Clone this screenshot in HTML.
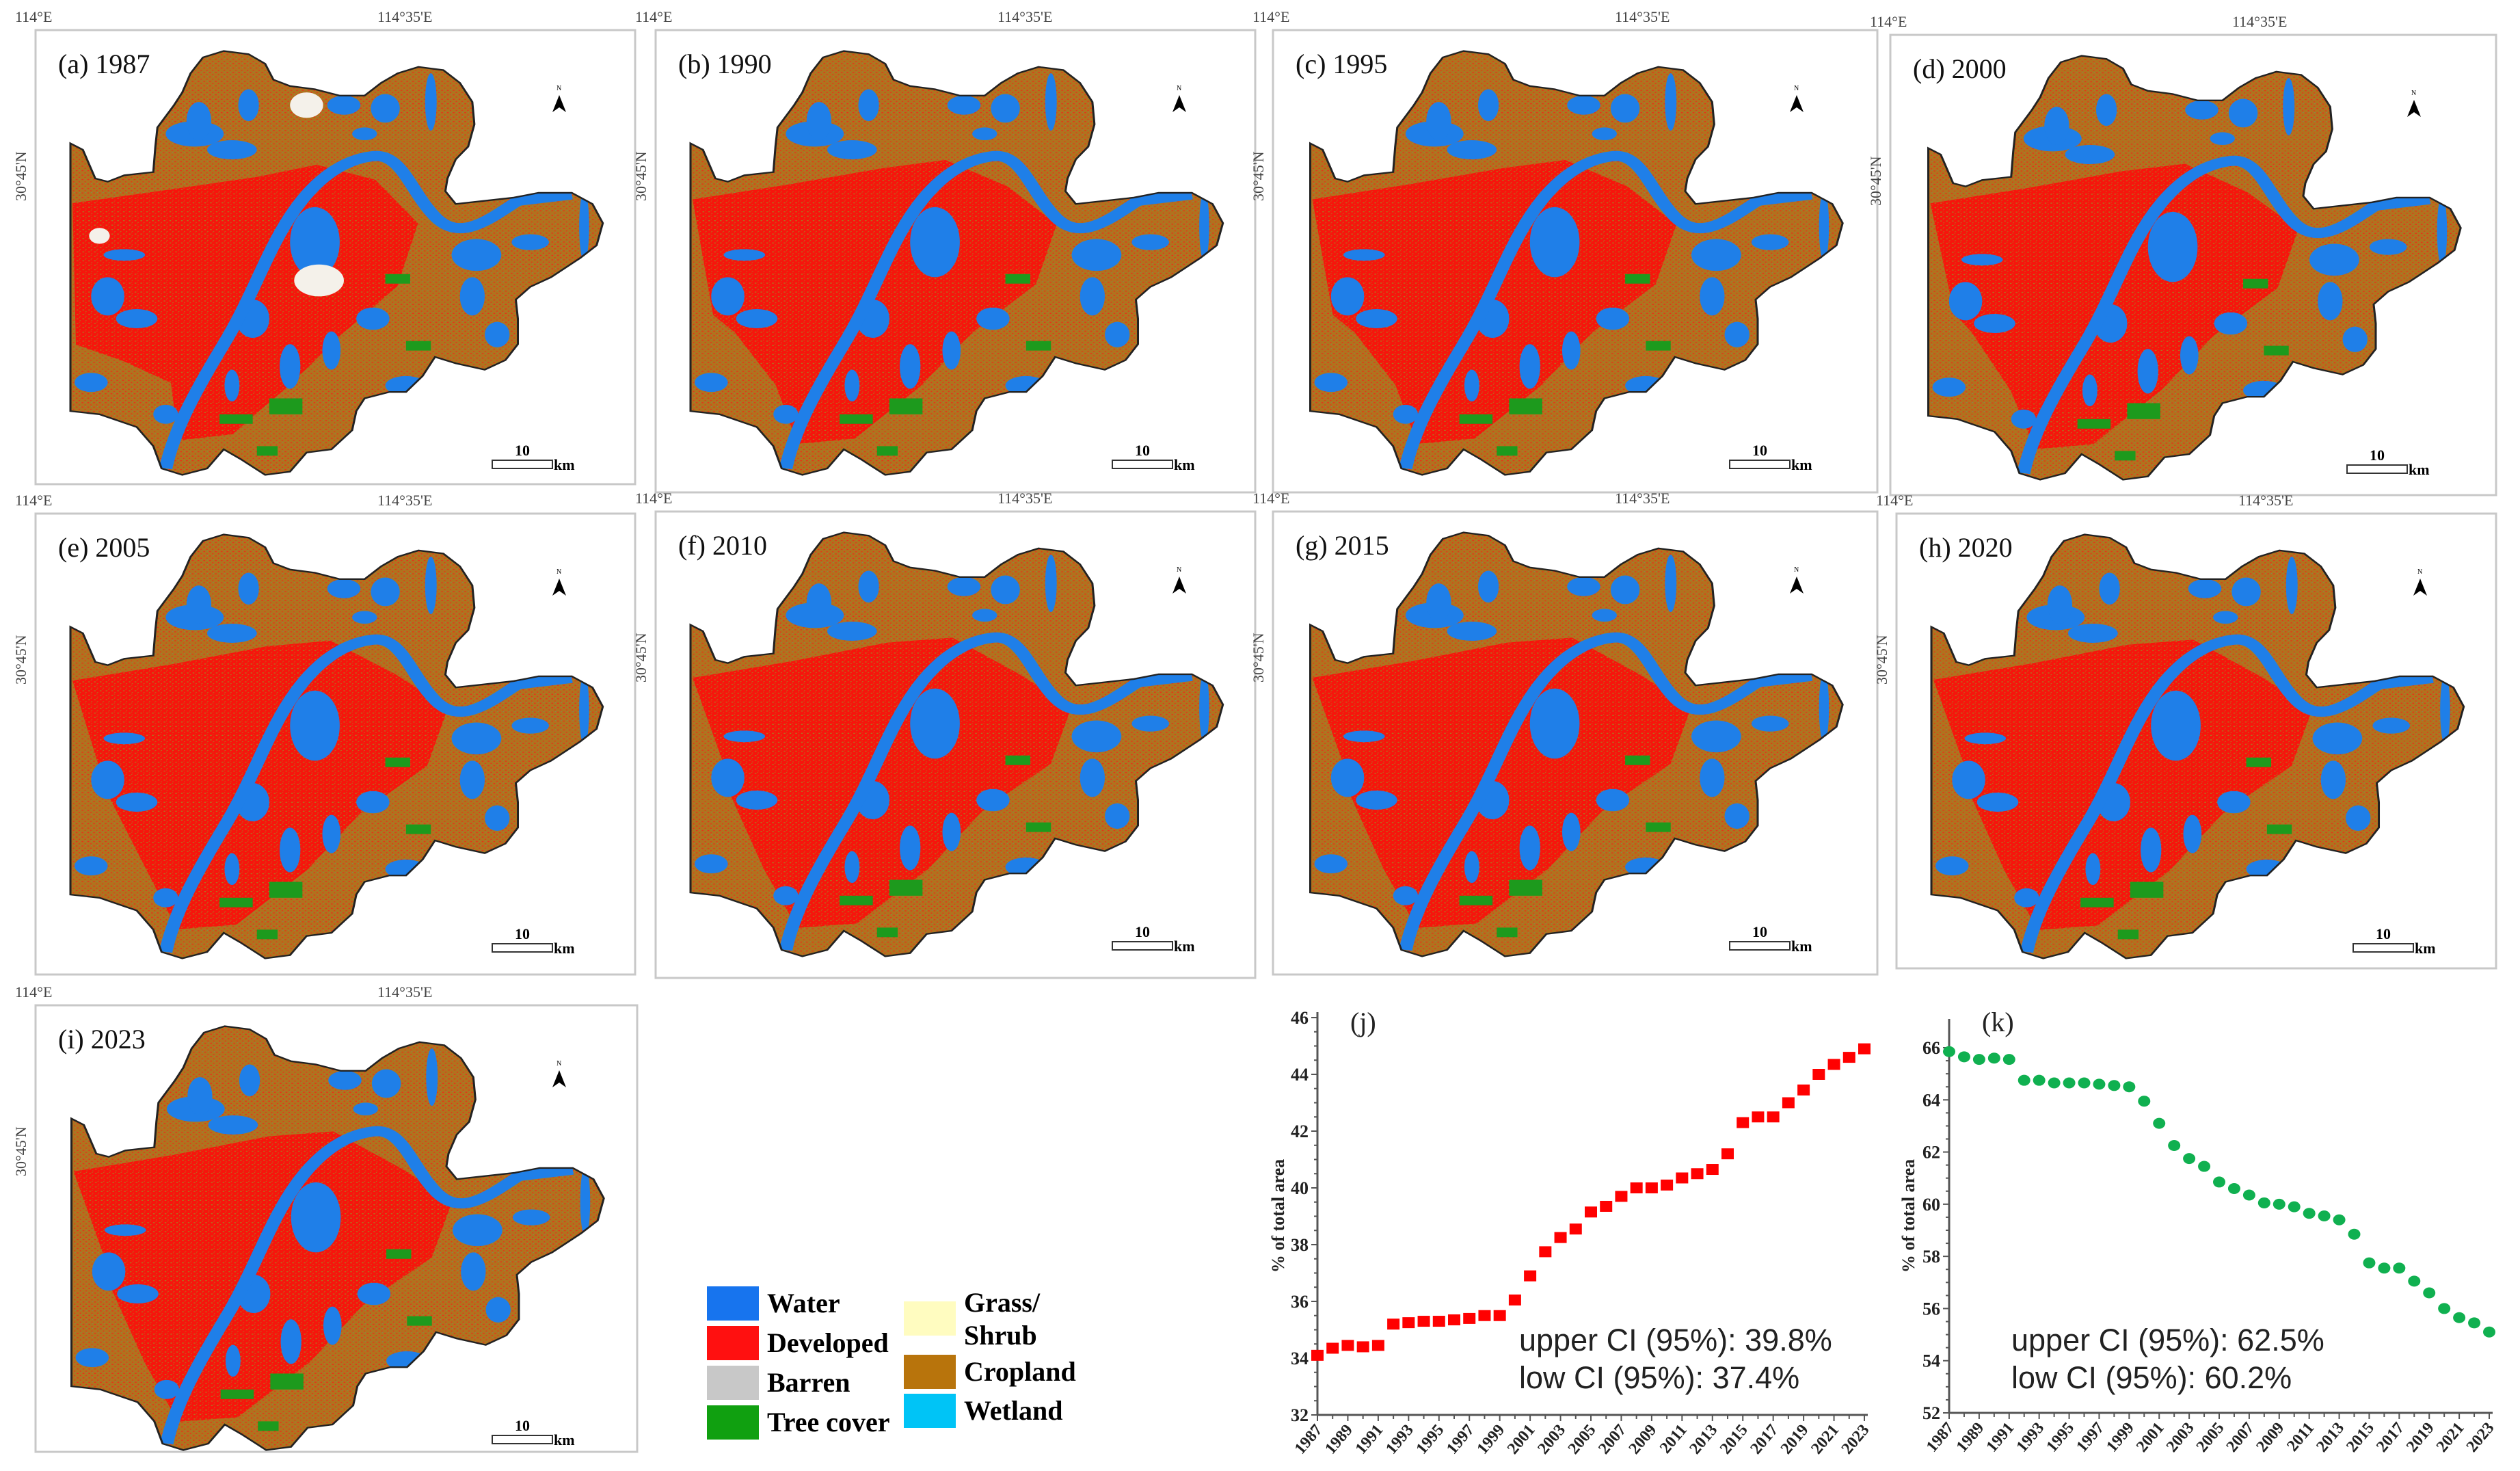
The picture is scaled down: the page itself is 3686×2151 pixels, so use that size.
<!DOCTYPE html>
<html><head><meta charset="utf-8">
<style>
html,body{margin:0;padding:0;background:#fff;}
svg{display:block;}
text{font-family:"Liberation Serif",serif;}
</style></head>
<body>
<svg id="fig" width="3686" height="2151" viewBox="0 0 3686 2151" xmlns="http://www.w3.org/2000/svg">
<defs>
<pattern id="crop" patternUnits="userSpaceOnUse" width="14" height="14">
<rect width="14" height="14" fill="#b0731e"/>
<rect x="1" y="2" width="4" height="3" fill="#e8301a"/>
<rect x="8" y="9" width="3" height="3" fill="#e8301a"/>
<rect x="10" y="1" width="2" height="2" fill="#7d8a60"/>
</pattern>
<pattern id="dev" patternUnits="userSpaceOnUse" width="14" height="14">
<rect width="14" height="14" fill="#f6150c"/>
<rect x="3" y="5" width="4" height="3" fill="#b0731e"/>
<rect x="10" y="11" width="3" height="2" fill="#b0731e"/>
<rect x="9" y="2" width="2" height="2" fill="#b0731e"/>
</pattern>
<clipPath id="mapclip" clipPathUnits="userSpaceOnUse"><path id="outlineClip" d=""/></clipPath>
</defs>
<g id="maps"></g>
<g id="legend"></g>
<g id="chartJ"></g>
<g id="chartK"></g>
</svg>
<script>
// ---- chart data ----
const years = [1987,1988,1989,1990,1991,1992,1993,1994,1995,1996,1997,1998,1999,2000,2001,2002,2003,2004,2005,2006,2007,2008,2009,2010,2011,2012,2013,2014,2015,2016,2017,2018,2019,2020,2021,2022,2023];
const developedPct = [34.1,34.35,34.45,34.4,34.45,35.2,35.25,35.3,35.3,35.35,35.4,35.5,35.5,36.05,36.9,37.75,38.25,38.55,39.15,39.35,39.7,40.0,40.0,40.1,40.35,40.5,40.65,41.2,42.3,42.5,42.5,43.0,43.45,44.0,44.35,44.6,44.9];
const croplandPct = [65.85,65.65,65.55,65.6,65.55,64.75,64.75,64.65,64.65,64.65,64.6,64.55,64.5,63.95,63.1,62.25,61.75,61.45,60.85,60.6,60.35,60.05,60.0,59.9,59.65,59.55,59.4,58.85,57.75,57.55,57.55,57.05,56.6,56.0,55.65,55.45,55.1];
const yTicksJ = [32,34,36,38,40,42,44,46];
const yTicksK = [52,54,56,58,60,62,64,66];
const ciJ = ["upper CI (95%): 39.8%","low CI (95%): 37.4%"];
const ciK = ["upper CI (95%): 62.5%","low CI (95%): 60.2%"];
const panelTitles = ["(a) 1987","(b) 1990","(c) 1995","(d) 2000","(e) 2005","(f) 2010","(g) 2015","(h) 2020","(i) 2023"];

const NS="http://www.w3.org/2000/svg";
function mk(tag,attrs,parent){const e=document.createElementNS(NS,tag);for(const k in attrs)e.setAttribute(k,attrs[k]);if(parent)parent.appendChild(e);return e;}

// ---- map geometry (base coordinate space) ----
const outline=[[170,450],[170,1290],[240,1300],[330,1340],[370,1400],[390,1470],[440,1490],[500,1470],[540,1410],[580,1440],[640,1490],[700,1480],[740,1420],[800,1410],[850,1350],[860,1290],[880,1250],[940,1230],[980,1230],[1020,1180],[1050,1120],[1100,1140],[1170,1160],[1220,1130],[1250,1080],[1250,1000],[1245,940],[1280,900],[1330,870],[1400,810],[1440,770],[1455,700],[1430,640],[1380,605],[1300,605],[1240,620],[1100,640],[1075,600],[1080,560],[1100,500],[1130,460],[1145,390],[1140,320],[1110,260],[1070,220],[1010,210],[960,230],[920,260],[880,300],[820,300],[760,280],[700,270],[660,250],[640,200],[600,170],[540,160],[490,180],[460,230],[440,290],[420,330],[380,400],[375,460],[370,540],[300,550],[260,570],[230,560],[200,470]];
const outlineD="M"+outline.map(p=>p.join(",")).join("L")+"Z";
document.getElementById("outlineClip").setAttribute("d",outlineD);
const redCore=[[175,640],[400,600],[620,560],[760,520],[900,560],[1000,700],[950,900],[820,1050],[700,1200],[560,1360],[430,1380],[420,1200],[300,1150],[175,1100]];
const redExtra=[[175,560],[450,480],[700,380],[900,420],[1100,700],[1300,720],[1250,850],[1000,1000],[850,1250],[600,1450],[420,1450],[175,1250]];
const riverD="M400,1470 C420,1350 470,1230 540,1080 S640,800 700,680 S830,500 900,490 S990,600 1050,680 S1180,690 1250,630 L1380,610";
const bluePatches=[[470,420,70,40],[560,470,60,30],[830,330,40,30],[930,340,35,45],[760,760,60,110],[1150,800,60,50],[980,1210,50,30],[260,930,40,60],[330,1000,50,30],[1140,930,30,60],[610,1000,40,60],[1410,710,12,110],[480,380,30,60],[600,330,25,50],[1040,320,14,90],[700,1150,25,70],[800,1100,22,60],[560,1210,18,50],[900,1000,40,35],[300,800,50,18],[220,1200,40,30],[400,1300,30,30],[1280,760,45,25],[1200,1050,30,40],[880,420,30,20]];
const greenPatches=[[650,1250,40,25],[530,1300,40,15],[930,860,30,15],[980,1070,30,15],[620,1400,25,15]];

const frames=[[52,44,877,664],[959,44,877,676],[1862,44,884,676],[2765,51,886,673],[52,751,877,674],[959,748,877,682],[1862,748,884,677],[2774,751,877,665],[52,1470,880,653]];
const levels=[0.55,0.8,0.8,0.85,0.95,1,1,1,1];
const maps=document.getElementById("maps");
frames.forEach((f,i)=>{
  const [fx,fy,fw,fh]=f;
  const g=mk("g",{},maps);
  
  
  mk("rect",{x:fx,y:fy,width:fw,height:fh,fill:"#fff",stroke:"#c8c8c8","stroke-width":3},g);
  const t1=mk("text",{x:fx-30,y:fy-12,"font-size":22,fill:"#444"},g);t1.textContent="114°E";
  const t2=mk("text",{x:fx+500,y:fy-12,"font-size":22,fill:"#444"},g);t2.textContent="114°35'E";
  const t3=mk("text",{x:0,y:0,"font-size":22,fill:"#444",transform:`translate(${fx-14},${fy+250}) rotate(-90)`},g);t3.textContent="30°45'N";
  const m=mk("g",{transform:`translate(${fx-52+(fw-877)/2},${fy-44}) scale(0.606,0.466)`},g);
  
  
  mk("path",{d:outlineD,fill:"url(#crop)"},m);
  const c=mk("g",{"clip-path":"url(#mapclip)"},m);
  const L=levels[i];
  const pts=redCore.map((p,k)=>{const q=redExtra[k%redExtra.length];return [p[0]+(q[0]-p[0])*(L-0.5)*0.6,p[1]+(q[1]-p[1])*(L-0.5)*0.6];});
  mk("path",{d:"M"+pts.map(p=>p.join(",")).join("L")+"Z",fill:"url(#dev)"},c);
  bluePatches.forEach(b=>mk("ellipse",{cx:b[0],cy:b[1],rx:b[2],ry:b[3],fill:"#1f7fe8"},c));
  greenPatches.forEach(b=>mk("rect",{x:b[0],y:b[1],width:b[2]*2,height:b[3]*2,fill:"#1d9a1d"},c));
  if(i===0){[[770,880,60,50],[240,740,25,25],[740,330,40,40]].forEach(b=>mk("ellipse",{cx:b[0],cy:b[1],rx:b[2],ry:b[3],fill:"#f4f1ea"},c));}
  mk("path",{d:riverD,fill:"none",stroke:"#1f7fe8","stroke-width":32},c);
  mk("path",{d:outlineD,fill:"none",stroke:"#222","stroke-width":5},m);
  const tt=mk("text",{x:fx+33,y:fy+63,"font-size":40,fill:"#111"},g);tt.textContent=panelTitles[i];
  const na=mk("path",{d:`M${fx+766},${fy+95} L${fx+776},${fy+120} L${fx+766},${fy+113} L${fx+756},${fy+120} Z`,fill:"#000"},g);
  
  
  const nt=mk("text",{x:fx+762,y:fy+88,"font-size":10},g);nt.textContent="N";
  mk("rect",{x:fx+668,y:fy+629,width:88,height:12,fill:"#fff",stroke:"#333","stroke-width":2},g);
  const s1=mk("text",{x:fx+712,y:fy+622,"font-size":22,"font-weight":"bold","text-anchor":"middle"},g);s1.textContent="10";
  const s2=mk("text",{x:fx+758,y:fy+643,"font-size":22,"font-weight":"bold"},g);s2.textContent="km";
});

// ---- legend ----
const legItems=[["Water","#1774ee",1034,1881],["Developed","#ff1010",1034,1939],["Barren","#c8c8c8",1034,1997],["Tree cover","#10a010",1034,2055],["Cropland","#b8740c",1322,1981],["Wetland","#00c4f6",1322,2038]];
const lg=document.getElementById("legend");
legItems.forEach(it=>{
  const r=mk("rect",{x:it[2],y:it[3],width:76,height:50,fill:it[1]},lg);
  
  
  const t=mk("text",{x:it[2]+88,y:it[3]+38,"font-size":40,"font-weight":"bold"},lg);t.textContent=it[0];
});
mk("rect",{x:1322,y:1903,width:76,height:50,fill:"#fffcc0"},lg);
const g1=mk("text",{x:1410,y:1918,"font-size":40,"font-weight":"bold"},lg);g1.textContent="Grass/";
const g2=mk("text",{x:1410,y:1966,"font-size":40,"font-weight":"bold"},lg);g2.textContent="Shrub";

// ---- charts ----
function chart(id,x0,x1,yBot,yTop,vMin,vMax,axisTop,ticks,vals,color,shape,tag,ci,lblX,tickX,ciX){
  const g=document.getElementById(id);
  const X=i=>x0+i*(x1-x0)/(years.length-1);
  const Y=v=>yBot-(v-vMin)*(yBot-yTop)/(vMax-vMin);
  mk("line",{x1:x0,y1:axisTop,x2:x0,y2:yBot,stroke:"#555","stroke-width":3},g);
  mk("line",{x1:x0,y1:yBot,x2:x1+5,y2:yBot,stroke:"#555","stroke-width":3},g);
  for(let v=vMin;v<=vMax+0.001;v+=0.5){const major=Math.abs(v-Math.round(v/2)*2)<0.01;mk("line",{x1:x0-(major?9:5),y1:Y(v),x2:x0,y2:Y(v),stroke:"#555","stroke-width":2},g);}
  ticks.forEach(v=>{const t=mk("text",{x:tickX,y:Y(v)+9,"font-size":26,"font-weight":"bold","text-anchor":"end",fill:"#222"},g);t.textContent=v;});
  years.forEach((yr,i)=>{
    mk("line",{x1:X(i),y1:yBot,x2:X(i),y2:yBot+(i%2===0?9:6),stroke:"#555","stroke-width":2},g);
    if(i%2===0){const t=mk("text",{x:0,y:0,"font-size":24,"font-weight":"bold","text-anchor":"end",fill:"#222",transform:`translate(${X(i)+8},${yBot+22}) rotate(-50)`},g);t.textContent=yr;}
  });
  vals.forEach((v,i)=>{
    let m;
    if(shape==="sq"){m=mk("rect",{x:X(i)-9,y:Y(v)-8,width:18,height:16,fill:color},g);}
    else{m=mk("ellipse",{cx:X(i),cy:Y(v),rx:9,ry:8,fill:color},g);}
    
    
  });
  const yl=mk("text",{x:0,y:0,"font-size":26,"font-weight":"bold","text-anchor":"middle",fill:"#222",transform:`translate(${lblX},1778) rotate(-90)`},g);
  yl.textContent="% of total area";
  const tg=mk("text",{x:x0+48,y:1508,"font-size":40,fill:"#222"},g);tg.textContent=tag;
  ci.forEach((s,k)=>{const t=mk("text",{x:ciX,y:1975+k*55,"font-size":45,fill:"#222",style:'font-family:"Liberation Sans",sans-serif'},g);t.textContent=s;});
}
chart("chartJ",1927,2727,2069,1488,32,46,1480,yTicksJ,developedPct,"#ff0000","sq","(j)",ciJ,1878,1914,2222);
chart("chartK",2851,3641,2066,1532,52,66,1490,yTicksK,croplandPct,"#10b050","ci","(k)",ciK,2800,2838,2942);
</script>
</body></html>
